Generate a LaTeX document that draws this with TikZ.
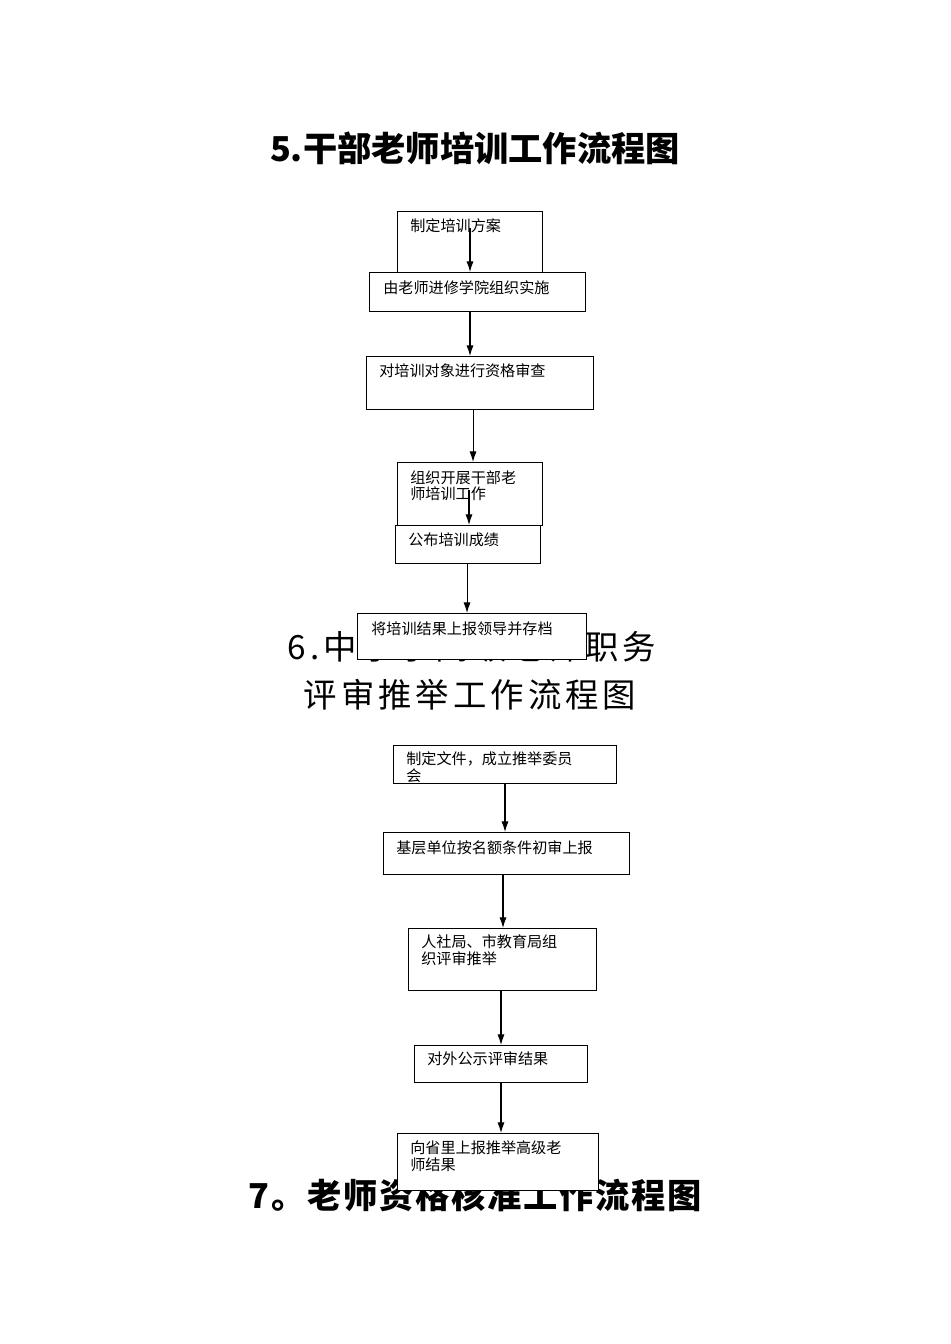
\documentclass[tikz,border=0pt]{standalone}
\usepackage{fontspec}
\usetikzlibrary{arrows.meta}
\setmainfont{Noto Sans CJK SC}
\begin{document}
\begin{tikzpicture}[x=0.02cm,y=-0.02cm,
 box/.style={draw,fill=white,line width=0.6pt,rectangle,inner sep=0pt,anchor=north west},
 txt/.style={anchor=north west,inner sep=0pt,align=left,font=\fontsize{8.6pt}{9.6pt}\selectfont},
 ttl/.style={font=\fontsize{19.5pt}{22pt}\selectfont\bfseries},
 ttlb/.style={font=\fontsize{19pt}{22pt}\selectfont\addfontfeatures{LetterSpace=12}},
 arr/.style={-{Latex[length=6pt,width=4pt]},line width=0.6pt}]
\useasboundingbox (0,0) rectangle (950,1344);
% headings (drawn first, boxes cover them)
\node[ttl] (h5) at (475,148) {5.干部老师培训工作流程图};
\node[ttlb] (h6a) at (472,647) {6.中小学高级老师职务};
\node[ttlb] (h6b) at (470,695) {评审推举工作流程图};
\node[ttl,font=\fontsize{19.5pt}{22pt}\selectfont\bfseries\addfontfeatures{LetterSpace=5}] (h7) at (475,1195) {7。老师资格核准工作流程图};
% section 5
\node[box,minimum width=145*0.02cm,minimum height=61*0.02cm] (b1) at (397,211) {};
\node[txt] at (410,218) {制定培训方案};
\node[box,minimum width=216*0.02cm,minimum height=39*0.02cm] (b2) at (369,272) {};
\node[txt] at (383,280) {由老师进修学院组织实施};
\node[box,minimum width=227*0.02cm,minimum height=53*0.02cm] (b3) at (366,356) {};
\node[txt] at (379,363) {对培训对象进行资格审查};
\node[box,minimum width=145*0.02cm,minimum height=63*0.02cm] (b4) at (397,462) {};
\node[txt] at (410,470) {组织开展干部老\\师培训工作};
\node[box,minimum width=145*0.02cm,minimum height=38*0.02cm] (b5) at (395,525) {};
\node[txt] at (408,532) {公布培训成绩};
\node[box,minimum width=229*0.02cm,minimum height=46*0.02cm] (b6) at (357,613) {};
\node[txt] at (371,621) {将培训结果上报领导并存档};
\coordinate (s1) at (470,228);
\coordinate (s4) at (469,490);
\draw[arr] (s1) -- (s1 |- b2.north);
\draw[arr] (b2.south -| s1) -- (b3.north -| s1);
\draw[arr] (b3.south) ++(-7,0) coordinate (s3) -- (s3 |- b4.north);
\draw[arr] (s4) -- (s4 |- b5.north);
\draw[arr] (b5.south) ++(-1,0) coordinate (s5) -- (s5 |- b6.north);
% section 6
\node[box,minimum width=223*0.02cm,minimum height=38*0.02cm] (c1) at (393,745) {};
\node[txt] at (406,751) {制定文件，成立推举委员\\会};
\node[box,minimum width=246*0.02cm,minimum height=42*0.02cm] (c2) at (383,832) {};
\node[txt] at (396,840) {基层单位按名额条件初审上报};
\node[box,minimum width=188*0.02cm,minimum height=62*0.02cm] (c3) at (408,928) {};
\node[txt] at (421,934) {人社局、市教育局组\\织评审推举};
\node[box,minimum width=173*0.02cm,minimum height=37*0.02cm] (c4) at (414,1045) {};
\node[txt] at (427,1051) {对外公示评审结果};
\node[box,minimum width=201*0.02cm,minimum height=57*0.02cm] (c5) at (397,1133) {};
\node[txt] at (410,1140) {向省里上报推举高级老\\师结果};
\coordinate (t1) at (505,783);
\coordinate (t2) at (503,874);
\coordinate (t3) at (501,990);
\coordinate (t4) at (501,1082);
\draw[arr] (t1) -- (t1 |- c2.north);
\draw[arr] (t2) -- (t2 |- c3.north);
\draw[arr] (t3) -- (t3 |- c4.north);
\draw[arr] (t4) -- (t4 |- c5.north);
\end{tikzpicture}
\end{document}
